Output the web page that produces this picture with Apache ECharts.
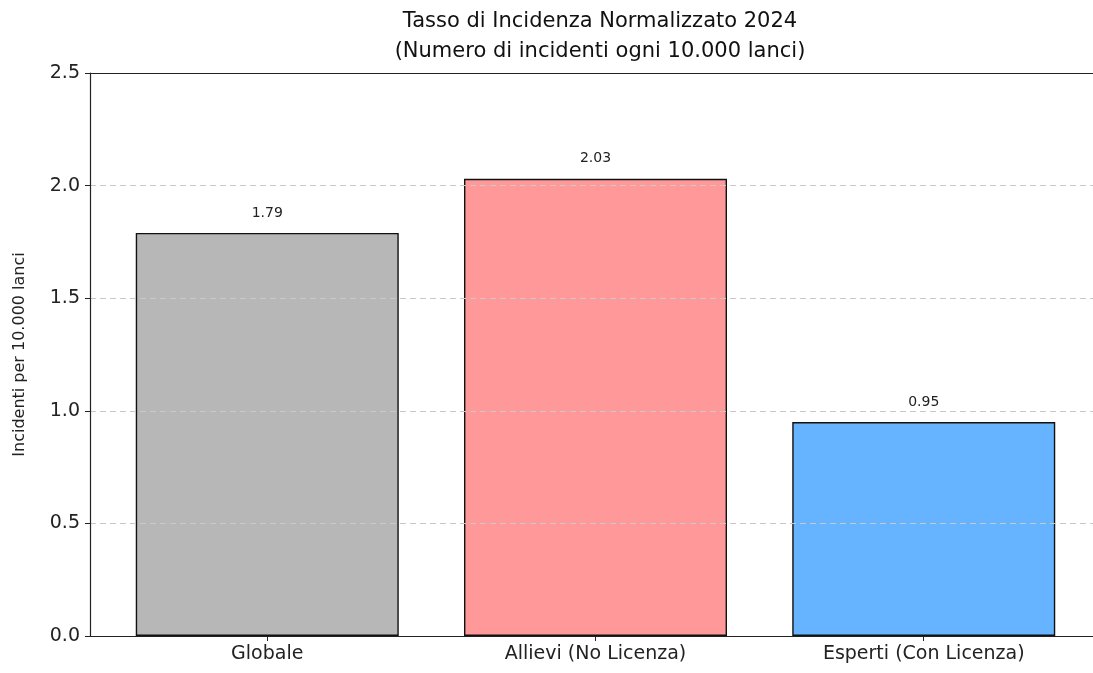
<!DOCTYPE html>
<html>
<head>
<meta charset="utf-8">
<title>Tasso di Incidenza Normalizzato 2024</title>
<script src="https://cdn.jsdelivr.net/npm/echarts@6/dist/echarts.min.js"></script>
<style>
  html, body { margin: 0; padding: 0; background: #fff; }
  #chart { width: 1093px; height: 673px; }
</style>
</head>
<body>
<div id="chart"></div>
<script>
// dati
const categories = ['Globale', 'Allievi (No Licenza)', 'Esperti (Con Licenza)']
const positions = [0, 1, 2]
const rates = [1.79, 2.03, 0.95]
const yTicks = [0, 0.5, 1.0, 1.5, 2.0, 2.5]

// colori delle barre
const barColors = ['#b7b7b7', '#ff9999', '#66b3ff']

const FONT = "'DejaVu Sans', sans-serif"
const chart = echarts.init(document.getElementById('chart'))

const seriesData = positions.map((p, i) => ({
  value: [p, rates[i]],
  itemStyle: { color: barColors[i] }
}))

chart.setOption({
  animation: false,
  title: {
    text: 'Tasso di Incidenza Normalizzato 2024\n(Numero di incidenti ogni 10.000 lanci)',
    left: 595,
    textAlign: 'center',
    top: 2,
    textStyle: { fontFamily: FONT, fontSize: 21, fontWeight: 'normal', color: '#111', lineHeight: 30 }
  },
  grid: { left: 90, top: 73, width: 1011, height: 563, outerBoundsMode: 'none' },
  xAxis: [
    {
      type: 'value',
      min: -0.54,
      max: 2.54,
      z: 6,
      splitLine: { show: false },
      axisLine: { show: true, onZero: false, lineStyle: { color: '#222', width: 1.2 } },
      axisTick: { show: true, customValues: positions, length: 5, lineStyle: { color: '#222' } },
      axisLabel: {
        customValues: positions,
        formatter: v => categories[Math.round(v)],
        fontFamily: FONT, fontSize: 19, color: '#222', margin: 9
      }
    },
    {
      type: 'value',
      position: 'top',
      min: -0.54,
      max: 2.54,
      z: 6,
      splitLine: { show: false },
      axisLine: { show: true, onZero: false, lineStyle: { color: '#222', width: 1.2 } },
      axisTick: { show: false },
      axisLabel: { show: false }
    }
  ],
  yAxis: {
    type: 'value',
    min: yTicks[0],
    max: yTicks[yTicks.length - 1],
    interval: 0.5,
    z: 5,
    name: 'Incidenti per 10.000 lanci',
    nameLocation: 'middle',
    nameGap: 62,
    nameTextStyle: { fontFamily: FONT, fontSize: 16, color: '#222' },
    axisLine: { show: true, onZero: false, lineStyle: { color: '#222', width: 1.2 } },
    axisTick: { show: true, length: 5, lineStyle: { color: '#222' } },
    axisLabel: {
      formatter: v => v.toFixed(1),
      fontFamily: FONT, fontSize: 19, color: '#222', margin: 10
    },
    splitLine: { show: true, lineStyle: { color: '#c8c8c8', type: [6, 4], width: 1 } }
  },
  series: [
    {
      type: 'bar',
      xAxisIndex: 0,
      barWidth: 263,
      data: seriesData,
      itemStyle: { borderColor: '#111', borderWidth: 1.4 },
      label: {
        show: true,
        position: 'top',
        distance: 13,
        formatter: p => p.value[1].toFixed(2),
        fontFamily: FONT, fontSize: 14, color: '#222'
      }
    }
  ]
})
</script>
</body>
</html>
